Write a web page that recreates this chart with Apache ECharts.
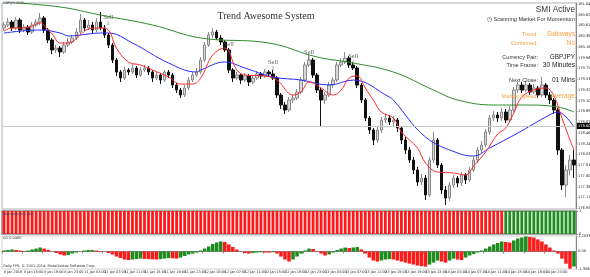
<!DOCTYPE html>
<html><head><meta charset="utf-8">
<script src="https://cdn.jsdelivr.net/npm/echarts@6/dist/echarts.min.js"></script>
<style>html,body{margin:0;padding:0;background:#fff;overflow:hidden}#c{width:590px;height:277px}</style>
</head><body><div id="c"></div>
<script>
// ---- candles [open, close, low, high] ----
const candles = [
[180.56,180.62,180.50,180.68],[180.62,180.68,180.58,180.76],[180.68,180.56,180.50,180.72],[180.56,180.72,180.52,180.78],
[180.72,180.52,180.46,180.76],[180.52,180.58,180.48,180.64],[180.58,180.48,180.42,180.62],[180.48,180.62,180.44,180.68],
[180.62,180.68,180.58,180.74],[180.68,180.76,180.62,180.86],[180.76,180.52,180.46,180.80],[180.52,180.32,180.26,180.56],
[180.32,180.12,180.04,180.36],[180.12,180.16,180.06,180.22],[180.16,180.08,179.98,180.20],[180.08,180.22,180.04,180.28],
[180.22,180.28,180.18,180.36],[180.28,180.36,180.24,180.42],[180.36,180.48,180.32,180.56],[180.48,180.72,180.44,180.84],
[180.72,180.56,180.50,180.76],[180.56,180.62,180.52,180.72],[180.62,180.52,180.46,180.68],[180.52,180.68,180.48,180.76],
[180.68,180.56,180.52,180.88],[180.56,180.42,180.36,180.62],[180.42,180.22,180.16,180.46],[180.22,179.92,179.86,180.26],
[179.92,179.68,179.60,179.96],[179.68,179.56,179.48,179.72],[179.56,179.72,179.52,179.78],[179.72,179.68,179.62,179.76],
[179.68,179.76,179.64,179.84],[179.76,179.62,179.56,179.80],[179.62,179.72,179.58,179.78],[179.72,179.76,179.68,179.82],
[179.76,179.68,179.62,179.80],[179.68,179.56,179.48,179.72],[179.56,179.62,179.52,179.68],[179.62,179.52,179.44,179.66],
[179.52,179.68,179.48,179.72],[179.68,179.62,179.56,179.72],[179.62,179.42,179.36,179.66],[179.42,179.32,179.26,179.46],
[179.32,179.22,179.16,179.36],[179.22,179.36,179.18,179.42],[179.36,179.52,179.32,179.58],[179.52,179.62,179.48,179.68],
[179.62,179.68,179.58,179.76],[179.68,179.92,179.64,179.98],[179.92,180.22,179.88,180.28],[180.22,180.42,180.18,180.48],
[180.42,180.48,180.36,180.56],[180.48,180.36,180.32,180.52],[180.36,180.28,180.22,180.42],[180.28,180.12,180.08,180.32],
[180.12,179.72,179.66,180.16],[179.72,179.56,179.48,179.76],[179.56,179.62,179.52,179.68],[179.62,179.52,179.44,179.66],
[179.52,179.60,179.48,179.66],[179.60,179.48,179.40,179.64],[179.48,179.56,179.44,179.62],[179.56,179.64,179.52,179.70],
[179.64,179.60,179.54,179.68],[179.60,179.68,179.56,179.74],[179.68,179.64,179.58,179.72],[179.64,179.56,179.52,179.72],
[179.56,179.22,179.16,179.60],[179.22,179.02,178.94,179.26],[179.02,178.92,178.84,179.08],[178.92,179.12,178.88,179.18],
[179.12,179.16,179.06,179.22],[179.16,179.28,179.12,179.34],[179.28,179.52,179.24,179.58],[179.52,179.82,179.48,179.88],
[179.82,179.92,179.78,180.02],[179.92,179.62,179.56,179.96],[179.62,179.32,179.26,179.66],[179.32,179.12,178.58,179.36],
[179.12,179.22,179.04,179.28],[179.22,179.42,179.18,179.48],[179.42,179.52,179.36,179.58],[179.52,179.82,179.48,179.88],
[179.82,179.88,179.78,179.96],[179.88,179.96,179.84,180.08],[179.96,179.82,179.76,180.00],[179.82,179.76,179.72,179.88],
[179.76,179.42,179.36,179.80],[179.42,179.12,179.06,179.46],[179.12,178.76,178.70,179.16],[178.76,178.52,178.44,178.80],
[178.52,178.32,178.22,178.56],[178.32,178.52,178.26,178.58],[178.52,178.72,178.46,178.78],[178.72,178.76,178.66,178.84],
[178.76,178.68,178.62,178.82],[178.68,178.72,178.60,178.80],[178.72,178.56,178.48,178.76],[178.56,178.32,178.24,178.60],
[178.32,178.12,178.04,178.38],[178.12,177.92,177.86,178.18],[177.92,177.72,177.64,177.98],[177.72,177.48,177.40,177.78],
[177.48,177.56,177.42,177.64],[177.56,177.22,177.12,177.62],[177.22,177.92,177.18,177.98],[177.92,178.32,177.86,178.48],
[178.32,177.82,177.76,178.36],[177.82,177.32,177.24,177.86],[177.32,177.16,177.02,177.40],[177.16,177.42,177.10,177.48],
[177.42,177.56,177.36,177.62],[177.56,177.46,177.38,177.60],[177.46,177.62,177.40,177.68],[177.62,177.52,177.44,177.66],
[177.52,177.72,177.48,177.78],[177.72,177.92,177.68,177.98],[177.92,178.12,177.86,178.18],[178.12,178.22,178.06,178.30],
[178.22,178.48,178.18,178.54],[178.48,178.76,178.42,178.82],[178.76,178.82,178.70,178.90],[178.82,178.76,178.68,178.88],
[178.76,178.88,178.70,178.96],[178.88,178.72,178.66,178.94],[178.72,178.92,178.68,179.00],[178.92,179.32,178.88,179.38],
[179.32,179.42,179.26,179.48],[179.42,179.32,179.26,179.48],[179.32,179.42,179.28,179.50],[179.42,179.28,179.22,179.46],
[179.28,179.36,179.24,179.44],[179.36,179.22,179.16,179.40],[179.22,179.42,179.18,179.58],[179.42,179.22,179.16,179.46],
[179.22,179.12,179.04,179.28],[179.12,178.92,178.84,179.16],[178.92,178.12,178.02,178.96],[178.12,177.42,177.32,178.16],
[177.42,177.72,177.18,177.82],[177.72,177.92,177.62,178.02],[177.92,177.82,177.56,178.12]
];
// ---- moving averages, read at [bar index, price] ----
const redMA = [[0,180.50],[2,180.56],[4,180.56],[6,180.57],[9,180.66],[11,180.52],[12,180.44],[14,180.26],[16,180.26],[19,180.42],[21,180.54],[24,180.56],[26,180.52],[28,180.16],[31,179.88],[34,179.82],[37,179.72],[41,179.58],[44,179.44],[47,179.44],[49,179.56],[52,180.02],[55,180.16],[58,179.72],[60,179.62],[65,179.60],[68,179.52],[72,179.22],[74,179.28],[76,179.48],[79,179.36],[82,179.22],[84,179.32],[86,179.56],[88,179.60],[90,179.36],[92,179.12],[94,178.88],[97,178.76],[99,178.48],[103,178.16],[105,177.86],[108,177.68],[112,177.66],[115,177.62],[117,177.80],[120,178.08],[123,178.44],[125,178.56],[127,178.86],[129,179.18],[132,179.32],[135,179.36],[137,179.20],[139,178.76],[141,178.32],[142,178.12]];
const blueMA = [[0,180.46],[9,180.52],[14,180.46],[16,180.40],[19,180.42],[24,180.46],[26,180.46],[32,180.26],[41,179.86],[48,179.68],[49,179.72],[55,179.88],[60,179.76],[67,179.58],[74,179.52],[81,179.42],[87,179.52],[96,179.18],[97,179.12],[105,178.38],[113,178.06],[117,178.00],[121,178.16],[128,178.46],[135,178.78],[138,178.88],[140,178.78],[142,178.58]];
const greenMA = [[0,181.08],[14,180.98],[24,180.82],[37,180.62],[49,180.36],[66,180.26],[78,179.98],[87,179.86],[97,179.68],[107,179.32],[113,179.12],[122,179.02],[130,179.02],[138,178.98],[142,178.88]];
// ---- Awesome Oscillator ----
const aoValues = [0.08,0.12,0.16,0.12,0.08,0.04,0.08,0.16,0.23,0.31,0.23,0.12,0.00,-0.12,-0.23,-0.31,-0.27,-0.16,-0.08,0.00,
0.08,0.12,0.12,0.08,0.04,0.00,-0.12,-0.23,-0.39,-0.51,-0.62,-0.66,-0.62,-0.59,-0.55,-0.57,-0.59,-0.61,-0.62,-0.59,
-0.55,-0.51,-0.53,-0.55,-0.47,-0.35,-0.23,-0.16,-0.08,0.08,0.23,0.39,0.59,0.70,0.78,0.74,0.55,0.35,0.16,0.00,
-0.12,-0.16,-0.12,-0.08,-0.06,-0.08,-0.09,-0.06,-0.16,-0.39,-0.62,-0.78,-0.62,-0.39,-0.16,0.08,0.23,0.20,0.04,-0.16,
-0.31,-0.23,-0.08,0.12,0.23,0.31,0.27,0.31,0.35,0.16,-0.16,-0.47,-0.70,-0.78,-0.70,-0.62,-0.59,-0.62,-0.70,-0.78,
-0.86,-0.94,-1.01,-1.09,-1.13,-1.17,-1.01,-0.86,-0.70,-0.78,-0.86,-0.70,-0.55,-0.62,-0.66,-0.47,-0.31,-0.20,-0.08,0.08,
0.23,0.39,0.55,0.66,0.78,0.74,0.70,0.86,1.01,1.09,1.17,1.13,1.09,0.94,0.78,0.55,0.31,0.08,-0.16,-0.55,-0.94,-1.33,-1.17];
// ---- trend colour panel: 0 = bearish (red), 1 = bullish (green) ----
const trendState = [0,0,0,0,0,0,0,0,0,0,0,0,0,0,0,0,0,0,0,0,0,0,0,0,0,0,0,0,0,0,0,0,0,0,0,0,0,0,0,0,
0,0,0,0,0,0,0,0,0,0,0,0,0,0,0,0,0,0,0,0,0,0,0,0,0,0,0,0,0,0,0,0,0,0,0,0,0,0,0,0,
0,0,0,0,0,0,0,0,0,0,0,0,0,0,0,0,0,0,0,0,0,0,0,0,0,0,0,0,0,0,0,0,0,0,0,0,0,0,0,0,
0,0,0,0,0,1,1,1,1,1,1,1,1,1,1,1,1,1,1,1,1,1,1];
// ---- tick labels ----
const dateLabels = ["8 Jan 2016","8 Jan 15:00","8 Jan 19:00","8 Jan 23:00","11 Jan 03:00","11 Jan 07:00","11 Jan 11:00","11 Jan 15:00","11 Jan 19:00","11 Jan 23:00","12 Jan 03:00","12 Jan 07:00","12 Jan 11:00","12 Jan 15:00","12 Jan 19:00","12 Jan 23:00","13 Jan 03:00","13 Jan 07:00","13 Jan 11:00","13 Jan 15:00","13 Jan 19:00","13 Jan 23:00","14 Jan 03:00","14 Jan 07:00","14 Jan 11:00","14 Jan 15:00","14 Jan 19:00","14 Jan 23:00","15 Jan 03:00"];
const priceTicks = [181.040,180.825,180.610,180.395,180.180,179.965,179.750,179.535,179.320,179.105,178.890,178.675,178.460,178.245,178.030,177.815,177.600,177.385,177.170,176.955];
const sellIdx = [26,56,67,76,87];
const sellPrice = [180.72,180.18,179.82,180.02,179.94];
const bidPrice = 178.60;
const aoTicks = [1.2033,0.00,-1.3560];

const categories = candles.map((_, i) => String(i));
const GREEN = '#1e8c1e', RED = '#ff1a1a';
const chart = echarts.init(document.getElementById('c'), null, {renderer: 'canvas'});
const FONT = 'DejaVu Sans';

const option = {
  animation: false,
  backgroundColor: '#ffffff',
  grid: [
    {left: 2, top: 3, width: 574, height: 206, show: true, borderColor: '#b0b0b0', borderWidth: 1},
    {left: 2, top: 211, width: 574, height: 23, show: true, borderColor: '#8c8c8c', borderWidth: 1.5},
    {left: 2, top: 236, width: 574, height: 33, show: true, borderColor: '#d0d0d0', borderWidth: 1}
  ],
  xAxis: [0, 1, 2].map(g => ({
    type: 'category', gridIndex: g, data: categories, boundaryGap: true,
    axisLine: {show: g === 2, lineStyle: {color: '#888'}},
    axisTick: {show: g === 2, interval: 4, length: 2, lineStyle: {color: '#888'}},
    axisLabel: g === 2 ? {show: true, interval: 4, fontSize: 3.4, fontFamily: FONT, color: '#222', margin: 2, align: 'left',
      hideOverlap: false, formatter: (v, idx) => dateLabels[Math.round(idx / 5)] || ''} : {show: false},
    splitLine: {show: false}
  })),
  yAxis: [
    {type: 'value', gridIndex: 0, position: 'right', min: 176.94, max: 181.06, scale: true,
     axisLine: {show: true, lineStyle: {color: '#888'}}, axisTick: {show: false}, axisLabel: {show: false}, splitLine: {show: false}},
    {type: 'value', gridIndex: 1, position: 'right', min: 0, max: 1, interval: 1,
     axisLine: {show: true, lineStyle: {color: '#888'}}, axisTick: {show: true, length: 2},
     axisLabel: {show: true, fontSize: 3.6, fontFamily: FONT, color: '#222', margin: 3}, splitLine: {show: false}},
    {type: 'value', gridIndex: 2, position: 'right', min: -1.356, max: 1.2033,
     axisLine: {show: true, lineStyle: {color: '#888'}}, axisTick: {show: false}, axisLabel: {show: false}, splitLine: {show: false}}
  ],
  series: [
    {type: 'candlestick', xAxisIndex: 0, yAxisIndex: 0, data: candles, barWidth: 3,
     itemStyle: {color: '#d8d8d8', color0: '#111111', borderColor: '#8a8a8a', borderColor0: '#111111', borderWidth: 1},
     markLine: {silent: true, symbol: 'none', data: [{yAxis: bidPrice}],
       lineStyle: {color: '#c8c8c8', type: 'solid', width: 1},
       label: {show: true, position: 'end', distance: 1, formatter: () => bidPrice.toFixed(3), color: '#fff', backgroundColor: '#000',
         fontSize: 3.6, fontFamily: FONT, padding: [1, 1]}}},
    {type: 'line', xAxisIndex: 0, yAxisIndex: 0, data: greenMA, smooth: 0.4, symbol: 'none', lineStyle: {color: '#2e8b2e', width: 1}},
    {type: 'line', xAxisIndex: 0, yAxisIndex: 0, data: blueMA, smooth: 0.4, symbol: 'none', lineStyle: {color: '#2a2aff', width: 1}},
    {type: 'line', xAxisIndex: 0, yAxisIndex: 0, data: redMA, smooth: 0.4, symbol: 'none', lineStyle: {color: '#ff2a2a', width: 1}},
    {type: 'scatter', xAxisIndex: 0, yAxisIndex: 0, symbolSize: 1, itemStyle: {color: 'rgba(0,0,0,0)'},
     data: sellIdx.map((ix, k) => [ix, sellPrice[k]]),
     label: {show: true, position: 'inside', formatter: '{s|Sell}\n{a|⇩}',
       rich: {s: {fontSize: 6.5, fontFamily: 'Liberation Serif', color: '#333', lineHeight: 6.5},
              a: {fontSize: 5, fontFamily: FONT, color: '#444', lineHeight: 6}}}},
    {type: 'bar', xAxisIndex: 1, yAxisIndex: 1, barCategoryGap: '30%',
     data: trendState.map(s => ({value: 1, itemStyle: {color: s ? GREEN : RED}}))},
    {type: 'bar', xAxisIndex: 2, yAxisIndex: 2, barCategoryGap: '12%', data: aoValues,
     itemStyle: {color: p => (p.dataIndex === 0 || aoValues[p.dataIndex] >= aoValues[p.dataIndex - 1]) ? GREEN : RED}}
  ]
};
chart.setOption(option);

// ---- texts ----
const g = [];
function txt(t, x, y, size, fill, align, family, weight) {
  g.push({type: 'text', x: x, y: y, silent: true, z: 100,
    style: {text: t, fill: fill, font: (weight || 'normal') + ' ' + size + 'px "' + (family || FONT) + '"', textAlign: align || 'left', textVerticalAlign: 'middle'}});
}
// price axis labels
priceTicks.forEach(p => {
  const y = chart.convertToPixel({yAxisIndex: 0}, p);
  txt(p.toFixed(3), 578, y, 3.6, '#222', 'left');
  g.push({type: 'line', silent: true, shape: {x1: 576, y1: y, x2: 577.5, y2: y}, style: {stroke: '#888', lineWidth: 1}});
});
aoTicks.forEach(v => {
  const y = chart.convertToPixel({yAxisIndex: 2}, v);
  txt(v === 0 ? '0.00' : v.toFixed(4), 578, y, 3.6, '#222', 'left');
});
const ORANGE = '#f5a142';
txt('Trend Awesome System', 266, 16, 10, '#333', 'center', 'Liberation Serif');
txt('SMI Active', 575, 10, 8.2, '#333', 'right', 'Liberation Sans');
txt('◷ Scanning Market For Momentum', 575, 19.5, 5.6, '#333', 'right', 'Liberation Sans');
txt('Trend:', 538, 34, 5.6, ORANGE, 'right', 'Liberation Sans');
txt('Sideways', 575, 34, 6.6, ORANGE, 'right', 'Liberation Sans');
txt('Confirmed:', 538, 43, 5.6, ORANGE, 'right', 'Liberation Sans');
txt('No', 575, 43, 6.6, ORANGE, 'right', 'Liberation Sans');
txt('Currency Pair:', 538, 57, 5.6, '#333', 'right', 'Liberation Sans');
txt('GBPJPY', 575, 57, 6.4, '#222', 'right', 'Liberation Sans');
txt('Time Frame:', 538, 65, 5.6, '#333', 'right', 'Liberation Sans');
txt('30 Minutes', 575, 65, 6.6, '#222', 'right', 'Liberation Sans');
txt('Next Close:', 538, 80, 5.6, '#333', 'right', 'Liberation Sans');
txt('01 Mins', 575, 80, 6.6, '#222', 'right', 'Liberation Sans');
txt('Market Speed:', 538, 96, 5.6, ORANGE, 'right', 'Liberation Sans');
txt('Average', 575, 96, 6.6, ORANGE, 'right', 'Liberation Sans');
txt('GBPJPY,M30', 3, 3.5, 3.5, '#444', 'left');
txt('Momentum Color', 3, 214.5, 3.5, '#333', 'left');
txt('AO 0.0480', 3, 238.5, 3.5, '#333', 'left');
txt('Daily FPS: © 2001-2014, MetaQuotes Software Corp.', 3, 266, 3.5, '#333', 'left');
chart.setOption({graphic: {elements: g}});
</script>
</body></html>
